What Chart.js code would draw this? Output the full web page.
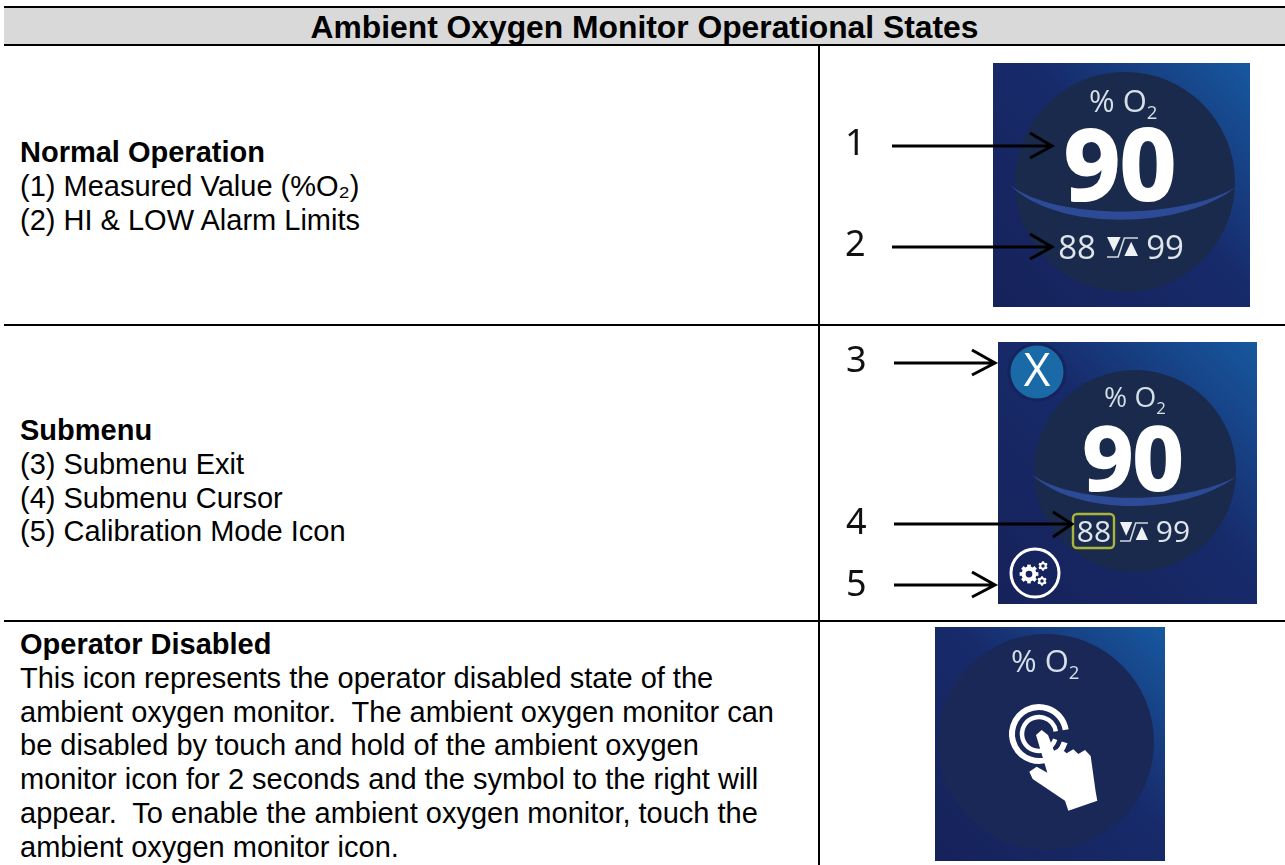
<!DOCTYPE html>
<html lang="en">
<head>
    <meta charset="UTF-8">
    <title>Ambient Oxygen Monitor Operational States</title>
    <script src="https://cdn.jsdelivr.net/npm/chart.js"></script>
    <style>
        html, body { margin: 0; padding: 0; background: #fff; width: 1285px; height: 865px; overflow: hidden; }
        body { position: relative; font-family: "Liberation Sans", Arial, sans-serif; color: #000; }
        .rule { position: absolute; background: #000; }
        .head { position: absolute; left: 4px; top: 8px; width: 1281px; height: 36px; background: #d9d9d9;
                font-weight: bold; font-size: 31.8px; line-height: 38px; text-align: center; }
        .txt { position: absolute; left: 20px; font-size: 29px; line-height: 33.8px; }
        .txt div { height: 33.8px; white-space: pre; }
        .panel { position: absolute; }
        svg { position: absolute; left: 0; top: 0; }
        svg text { font-family: "Noto Sans", sans-serif; font-size: 36px; fill: #111; }
    </style>
</head>
<body>
    <div class="head">Ambient Oxygen Monitor Operational States</div>
    <div class="rule" style="left:4px;top:6px;width:1281px;height:2px"></div>
    <div class="rule" style="left:4px;top:44px;width:1281px;height:2px"></div>
    <div class="rule" style="left:818px;top:46px;width:2px;height:819px"></div>
    <div class="rule" style="left:4px;top:324px;width:1281px;height:2px"></div>
    <div class="rule" style="left:4px;top:620px;width:1281px;height:2px"></div>

    <div class="txt" style="top:136px">
        <div><b>Normal Operation</b></div>
        <div>(1) Measured Value (%O₂)</div>
        <div>(2) HI &amp; LOW Alarm Limits</div>
    </div>
    <div class="txt" style="top:414px">
        <div><b>Submenu</b></div>
        <div>(3) Submenu Exit</div>
        <div>(4) Submenu Cursor</div>
        <div>(5) Calibration Mode Icon</div>
    </div>
    <div class="txt" style="top:628px">
        <div><b>Operator Disabled</b></div>
        <div>This icon represents the operator disabled state of the</div>
        <div>ambient oxygen monitor.  The ambient oxygen monitor can</div>
        <div>be disabled by touch and hold of the ambient oxygen</div>
        <div>monitor icon for 2 seconds and the symbol to the right will</div>
        <div>appear.  To enable the ambient oxygen monitor, touch the</div>
        <div>ambient oxygen monitor icon.</div>
    </div>

    <canvas class="panel" id="normalIcon" style="left:993px;top:63px"></canvas>
    <canvas class="panel" id="submenuIcon" style="left:998px;top:342px"></canvas>
    <canvas class="panel" id="disabledIcon" style="left:935px;top:627px"></canvas>

    <!-- callout arrows and their numbers sit over the icons -->
    <svg width="1285" height="865" fill="none" stroke="#000" stroke-width="3">
        <path d="M892 146H1052M1030 133L1052 146L1030 158"/>
        <path d="M892 247H1052M1030 234L1052 247L1030 259"/>
        <path d="M894 363H995M972 350L995 363L972 375"/>
        <path d="M894 524H1072M1053 512L1072 524L1053 537"/>
        <path d="M894 585H995M972 572L995 585L972 597"/>
        <g stroke="none">
            <text x="845" y="155">1</text>
            <text x="845" y="256">2</text>
            <text x="846" y="372">3</text>
            <text x="846" y="534">4</text>
            <text x="846" y="596">5</text>
        </g>
    </svg>

    <script>
        // values shown on the monitor icons
        const gaugeLabel = '% O';
        const gaugeSub = '2';
        const measuredValue = ['90', '90'];
        const lowLimit = ['88', '88'];
        const highLimit = ['99', '99'];
        const discShare = [1];

        const WHITE = '#ffffff';
        const SOFT = '#d5dfe6';

        function panelBackground(c, w, h) {
            const g = c.createLinearGradient(0, h, w, 0);
            g.addColorStop(0, '#16225a');
            g.addColorStop(0.55, '#172a6a');
            g.addColorStop(1, '#17589f');
            c.fillStyle = g;
            c.fillRect(0, 0, w, h);
        }

        function discFill(colors) {
            return function (ctx) {
                const arc = ctx.element;
                if (!arc || !arc.x) return colors[1];
                const g = ctx.chart.ctx.createLinearGradient(arc.x - arc.outerRadius, 0, arc.x + arc.outerRadius, 0);
                g.addColorStop(0, colors[0]);
                g.addColorStop(0.45, colors[1]);
                g.addColorStop(1, colors[2]);
                return g;
            };
        }

        function drawO2(c, x, y, size) {
            c.fillStyle = SOFT;
            c.font = size + 'px "Open Sans"';
            c.textAlign = 'left';
            c.textBaseline = 'alphabetic';
            c.fillText(gaugeLabel, x, y);
            const w = c.measureText(gaugeLabel).width;
            c.font = (size * 0.6) + 'px "Open Sans"';
            c.fillText(gaugeSub, x + w, y + size * 0.24);
        }

        // the little hysteresis sign between the low and high limits
        function drawLimitSign(c, x, y, w, h) {
            c.fillStyle = '#eef2f4';
            c.beginPath();
            c.moveTo(x, y); c.lineTo(x + w * 0.44, y); c.lineTo(x + w * 0.22, y + h * 0.72);
            c.closePath(); c.fill();
            c.beginPath();
            c.moveTo(x + w, y + h * 0.95); c.lineTo(x + w * 0.56, y + h * 0.95); c.lineTo(x + w * 0.78, y + h * 0.24);
            c.closePath(); c.fill();
            c.strokeStyle = '#cfd8de';
            c.lineWidth = 1.6;
            c.beginPath();
            c.moveTo(x, y + h); c.lineTo(x + w * 0.36, y + h);
            c.lineTo(x + w * 0.56, y + 1); c.lineTo(x + w, y + 1);
            c.stroke();
        }

        function drawBlueArc(c, x0, y0, x1, y1, yLow) {
            c.fillStyle = '#2d4a96';
            c.beginPath();
            c.moveTo(x0, y0);
            c.bezierCurveTo(x0 + 45, yLow + 5, x1 - 55, yLow + 5, x1, y1);
            c.bezierCurveTo(x1 - 55, yLow - 6, x0 + 45, yLow - 6, x0, y0);
            c.fill();
        }

        function drawGear(c, x, y, r, teeth) {
            c.save();
            c.translate(x, y);
            c.fillStyle = WHITE;
            for (let i = 0; i < teeth; i++) {
                c.rotate(Math.PI * 2 / teeth);
                c.fillRect(-r * 0.24, -r * 1.25, r * 0.48, r * 0.6);
            }
            c.beginPath();
            c.arc(0, 0, r, 0, Math.PI * 2);
            c.fill();
            c.fillStyle = '#17235a';
            c.beginPath();
            c.arc(0, 0, r * 0.45, 0, Math.PI * 2);
            c.fill();
            c.restore();
        }

        function drawHand(c) {
            const pts = [[588,375],[605,360],[624,375],[642,422],[660,413],[680,430],[700,418],[715,432],[735,420],[752,438],
                         [767,545],[772,572],[685,602],[675,572],[578,507],[568,485],[590,470],[622,488]];
            c.fillStyle = WHITE;
            c.beginPath();
            pts.forEach(function (p, i) {
                const x = p[0] / 3 - 95, y = p[1] / 3 - 17;
                if (i === 0) c.moveTo(x, y); else c.lineTo(x, y);
            });
            c.closePath();
            c.fill();
        }

        const normalOverlay = {
            id: 'normalOverlay',
            afterDatasetsDraw(chart) {
                const c = chart.ctx;
                c.save();
                drawBlueArc(c, 17, 122, 243, 124, 163);
                drawO2(c, 96, 49, 31);
                c.fillStyle = WHITE;
                c.strokeStyle = WHITE;
                c.lineWidth = 2;
                c.textAlign = 'center';
                c.textBaseline = 'alphabetic';
                c.font = 'bold 98px "Open Sans"';
                c.fillText(measuredValue[0], 127, 137);
                c.strokeText(measuredValue[0], 127, 137);
                c.fillStyle = '#dfe6ea';
                c.font = '33px "Open Sans"';
                c.fillText(lowLimit[0], 84, 196);
                c.fillText(highLimit[0], 172, 196);
                drawLimitSign(c, 114, 174, 31, 20);
                c.restore();
            }
        };

        const submenuOverlay = {
            id: 'submenuOverlay',
            afterDatasetsDraw(chart) {
                const c = chart.ctx;
                c.save();
                drawBlueArc(c, 34, 133, 238, 135, 169);
                drawO2(c, 106, 65, 28);
                c.fillStyle = WHITE;
                c.strokeStyle = WHITE;
                c.lineWidth = 2;
                c.textAlign = 'center';
                c.textBaseline = 'alphabetic';
                c.font = 'bold 88px "Open Sans"';
                c.fillText(measuredValue[1], 135, 148);
                c.strokeText(measuredValue[1], 135, 148);
                c.fillStyle = '#dfe6ea';
                c.font = '30px "Open Sans"';
                c.fillText(lowLimit[1], 96, 200);
                c.fillText(highLimit[1], 175, 200);
                drawLimitSign(c, 122, 180, 28, 19);
                // cursor box round the low limit
                c.strokeStyle = '#a8b53a';
                c.lineWidth = 2.4;
                c.beginPath();
                c.roundRect(75, 172, 41, 34, 4);
                c.stroke();
                // exit button
                c.fillStyle = '#1a6aa8';
                c.strokeStyle = '#16245c';
                c.lineWidth = 3;
                c.beginPath();
                c.arc(39, 30, 28, 0, Math.PI * 2);
                c.fill();
                c.stroke();
                c.fillStyle = WHITE;
                c.font = '46px "Open Sans"';
                c.textBaseline = 'middle';
                c.fillText('X', 39, 31);
                // calibration button
                c.strokeStyle = WHITE;
                c.lineWidth = 3;
                c.beginPath();
                c.arc(37, 231, 24, 0, Math.PI * 2);
                c.stroke();
                drawGear(c, 31, 232, 7.5, 8);
                drawGear(c, 45, 224, 3.8, 6);
                drawGear(c, 44, 239, 3.8, 6);
                c.restore();
            }
        };

        const disabledOverlay = {
            id: 'disabledOverlay',
            afterDatasetsDraw(chart) {
                const c = chart.ctx;
                c.save();
                drawO2(c, 76, 45, 31);
                c.strokeStyle = WHITE;
                c.lineWidth = 6;
                c.beginPath();
                c.arc(104, 107, 27, Math.PI * 0.1, Math.PI * 1.95);
                c.stroke();
                c.lineWidth = 4.5;
                c.beginPath();
                c.arc(104, 107, 17, Math.PI * 0.1, Math.PI * 1.95);
                c.stroke();
                drawHand(c);
                c.restore();
            }
        };

        function iconChart(id, w, h, pad, colors, overlay) {
            const canvas = document.getElementById(id);
            canvas.width = w;
            canvas.height = h;
            canvas.style.width = w + 'px';
            canvas.style.height = h + 'px';
            return new Chart(canvas.getContext('2d'), {
                type: 'doughnut',
                data: {
                    labels: ['disc'],
                    datasets: [{ data: discShare, backgroundColor: discFill(colors), borderWidth: 0 }]
                },
                options: {
                    responsive: false,
                    animation: false,
                    cutout: 0,
                    layout: { padding: pad },
                    plugins: { legend: { display: false }, tooltip: { enabled: false } }
                },
                plugins: [{
                    id: 'panelFill',
                    beforeDraw(chart) { panelBackground(chart.ctx, w, h); }
                }, overlay]
            });
        }

        iconChart('normalIcon', 257, 244, { left: 22, right: 15, top: 9, bottom: 15 },
            ['#17276a', '#1a2a4c', '#1c2a38'], normalOverlay);
        iconChart('submenuIcon', 259, 262, { left: 36, right: 21, top: 28, bottom: 32 },
            ['#17276a', '#1a2a4c', '#1c2a38'], submenuOverlay);
        iconChart('disabledIcon', 230, 234, { left: 3, right: 11, top: 7, bottom: 11 },
            ['#1b2a62', '#1a2858', '#1a3264'], disabledOverlay);
    </script>
</body>
</html>
